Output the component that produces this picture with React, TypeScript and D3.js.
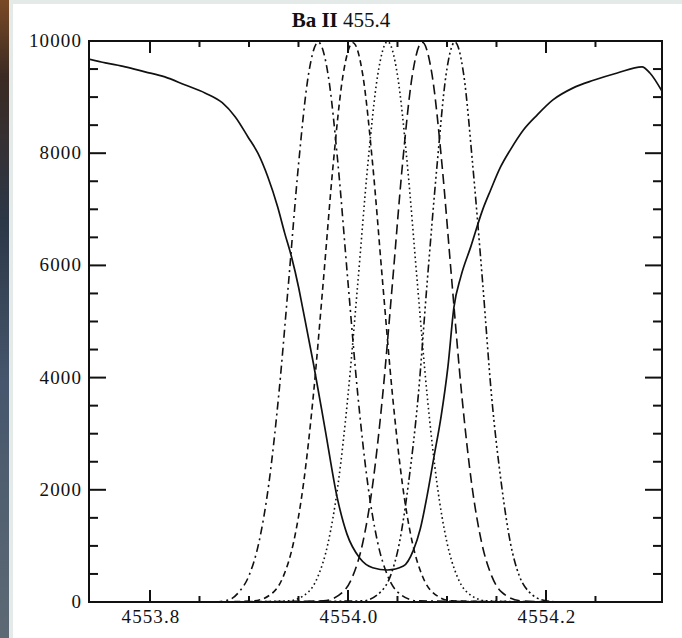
import React from "react";
import * as d3 from "d3";

// axis setup
const title = "Ba II";
const titleRest = " 455.4";
const waveRange = [4553.7384, 4554.3172];
const countRange = [0, 10000];

const xMajor = [4553.8, 4554.0, 4554.2];
const xLabels = ["4553.8", "4554.0", "4554.2"];
const xMinor = [4553.85, 4553.9, 4553.95, 4554.05, 4554.1, 4554.15, 4554.25];
const yMajor = [0, 2000, 4000, 6000, 8000, 10000];
const yLabels = ["0", "2000", "4000", "6000", "8000", "10000"];
const yMinor = [500, 1000, 1500, 2500, 3000, 3500, 4500, 5000, 5500, 6500, 7000, 7500, 8500, 9000, 9500];

// Ba II line profile (solid)
const lineWave = [
  4553.738, 4553.755, 4553.775, 4553.795, 4553.815, 4553.835, 4553.856, 4553.873,
  4553.886, 4553.899, 4553.909, 4553.919, 4553.929, 4553.936, 4553.943, 4553.95,
  4553.954, 4553.965, 4553.977, 4553.989, 4553.999, 4554.012, 4554.025, 4554.04,
  4554.056, 4554.066, 4554.073, 4554.08, 4554.087, 4554.094, 4554.101, 4554.107,
  4554.114, 4554.124, 4554.136, 4554.144, 4554.154, 4554.164, 4554.177, 4554.191,
  4554.207, 4554.227, 4554.248, 4554.272, 4554.297, 4554.305, 4554.317,
];
const lineCounts = [
  9680, 9610, 9540, 9450, 9360, 9220, 9070, 8900,
  8650, 8290, 8000, 7580, 7040, 6580, 6150, 5620,
  5260, 4260, 3070, 1870, 1210, 780, 610, 570,
  640, 920, 1300, 1900, 2600, 3300, 4200, 5250,
  5800, 6330, 6990, 7340, 7750, 8060, 8410, 8680,
  8950, 9160, 9300, 9430, 9540, 9430, 9110,
];

// filter transmission profiles
const filterWave1 = [4553.865, 4553.88, 4553.89, 4553.9, 4553.91, 4553.92, 4553.93, 4553.94, 4553.95, 4553.96, 4553.97, 4553.98, 4553.99, 4554.0, 4554.01, 4554.02, 4554.03, 4554.04, 4554.05, 4554.07, 4554.213];
const filterCounts1 = [0, 40, 180, 470, 1060, 2100, 3680, 5700, 7790, 9390, 9980, 9390, 7790, 5700, 3680, 2100, 1060, 470, 180, 20, 0];

const filterWave2 = [4553.865, 4553.905, 4553.925, 4553.935, 4553.945, 4553.955, 4553.965, 4553.975, 4553.985, 4553.995, 4554.005, 4554.015, 4554.025, 4554.035, 4554.045, 4554.055, 4554.065, 4554.075, 4554.085, 4554.105, 4554.213];
const filterCounts2 = [0, 20, 180, 470, 1060, 2100, 3680, 5700, 7790, 9390, 9970, 9390, 7790, 5700, 3680, 2100, 1060, 470, 180, 20, 0];

const filterWave3 = [4553.865, 4553.94, 4553.96, 4553.97, 4553.98, 4553.99, 4554.0, 4554.01, 4554.02, 4554.03, 4554.04, 4554.05, 4554.06, 4554.07, 4554.08, 4554.09, 4554.1, 4554.11, 4554.12, 4554.14, 4554.213];
const filterCounts3 = [0, 20, 180, 470, 1060, 2100, 3680, 5700, 7790, 9390, 9990, 9390, 7790, 5700, 3680, 2100, 1060, 470, 180, 20, 0];

const filterWave4 = [4553.865, 4553.975, 4553.995, 4554.005, 4554.015, 4554.025, 4554.035, 4554.045, 4554.055, 4554.065, 4554.075, 4554.085, 4554.095, 4554.105, 4554.115, 4554.125, 4554.135, 4554.145, 4554.155, 4554.175, 4554.213];
const filterCounts4 = [0, 20, 180, 470, 1060, 2100, 3680, 5700, 7790, 9390, 9980, 9390, 7790, 5700, 3680, 2100, 1060, 470, 180, 20, 0];

const filterWave5 = [4553.865, 4554.015, 4554.033, 4554.043, 4554.052, 4554.061, 4554.071, 4554.08, 4554.09, 4554.099, 4554.108, 4554.117, 4554.126, 4554.136, 4554.145, 4554.155, 4554.164, 4554.173, 4554.183, 4554.2, 4554.213];
const filterCounts5 = [0, 20, 180, 470, 1060, 2100, 3680, 5700, 7790, 9390, 9980, 9390, 7790, 5700, 3680, 2100, 1060, 470, 180, 20, 0];

const filters = [
  { wave: filterWave1, counts: filterCounts1, dash: "8,4,2,4" },
  { wave: filterWave2, counts: filterCounts2, dash: "6,4" },
  { wave: filterWave3, counts: filterCounts3, dash: "1.6,3" },
  { wave: filterWave4, counts: filterCounts4, dash: "10,5" },
  { wave: filterWave5, counts: filterCounts5, dash: "8,3,2,3,2,3,2,3" },
];

const W = 682;
const H = 638;
const left = 89;
const right = 662;
const top = 41;
const bottom = 602;
const font = "'Liberation Serif', 'DejaVu Serif', serif";

export default function App() {
  const x = d3.scaleLinear().domain(waveRange).range([left, right]);
  const y = d3.scaleLinear().domain(countRange).range([bottom, top]);

  const makePath = (wave: number[], counts: number[]) =>
    d3
      .line<number>()
      .x((w) => x(w))
      .y((_, i) => y(counts[i]))
      .curve(d3.curveMonotoneX)(wave) || "";

  return (
    <svg
      width={W}
      height={H}
      style={{ position: "absolute", left: 0, top: 0, display: "block" }}
    >
      <defs>
        <linearGradient id="strip" x1="0" y1="0" x2="0" y2="1">
          <stop offset="0" stopColor="#7a4a26" />
          <stop offset="0.12" stopColor="#3b2a22" />
          <stop offset="0.35" stopColor="#2c3848" />
          <stop offset="0.6" stopColor="#46566c" />
          <stop offset="1" stopColor="#5d6a75" />
        </linearGradient>
        <clipPath id="plot">
          <rect x={left} y={top - 1} width={right - left} height={bottom - top + 2} />
        </clipPath>
      </defs>

      <rect x={0} y={0} width={W} height={H} fill="#e3eae7" />
      <rect x={0} y={0} width={9} height={H} fill="url(#strip)" />
      <rect x={13} y={4} width={W - 13} height={H - 4} fill="#ffffff" />

      <text
        x={341}
        y={27}
        textAnchor="middle"
        fontFamily={font}
        fontSize={21}
        fill="#111"
      >
        <tspan fontWeight="bold">{title}</tspan>
        <tspan>{titleRest}</tspan>
      </text>

      <g clipPath="url(#plot)" fill="none" stroke="#111" strokeWidth={1.6}>
        {filters.map((f, i) => (
          <path key={i} d={makePath(f.wave, f.counts)} strokeDasharray={f.dash} />
        ))}
        <path d={makePath(lineWave, lineCounts)} strokeWidth={1.7} />
      </g>

      <g stroke="#111" strokeWidth={2}>
        {xMajor.map((v) => (
          <g key={"xM" + v}>
            <line x1={x(v)} x2={x(v)} y1={bottom} y2={bottom - 12} />
            <line x1={x(v)} x2={x(v)} y1={top} y2={top + 12} />
          </g>
        ))}
        {xMinor.map((v) => (
          <g key={"xm" + v}>
            <line x1={x(v)} x2={x(v)} y1={bottom} y2={bottom - 6} />
            <line x1={x(v)} x2={x(v)} y1={top} y2={top + 6} />
          </g>
        ))}
        {yMajor.map((v) => (
          <g key={"yM" + v}>
            <line x1={left} x2={left + 17} y1={y(v)} y2={y(v)} />
            <line x1={right} x2={right - 17} y1={y(v)} y2={y(v)} />
          </g>
        ))}
        {yMinor.map((v) => (
          <g key={"ym" + v}>
            <line x1={left} x2={left + 9} y1={y(v)} y2={y(v)} />
            <line x1={right} x2={right - 9} y1={y(v)} y2={y(v)} />
          </g>
        ))}
        <rect x={left} y={top} width={right - left} height={bottom - top} fill="none" />
      </g>

      <g fontFamily={font} fontSize={19} fill="#111" letterSpacing={1.1}>
        {yMajor.map((v, i) => (
          <text key={"yl" + v} x={82} y={y(v) + 6} textAnchor="end">
            {yLabels[i]}
          </text>
        ))}
        {xMajor.map((v, i) => (
          <text key={"xl" + v} x={x(v) + 1} y={623} textAnchor="middle">
            {xLabels[i]}
          </text>
        ))}
      </g>
    </svg>
  );
}
